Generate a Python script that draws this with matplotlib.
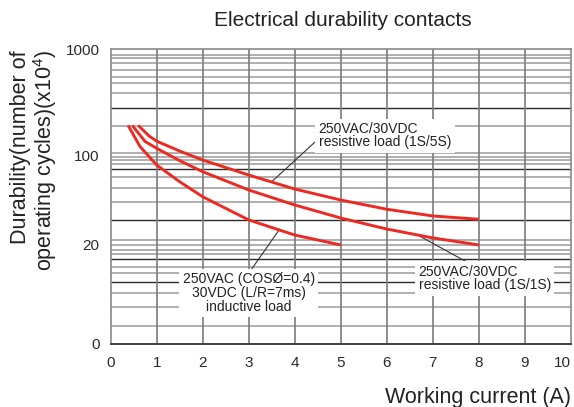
import numpy as np
import matplotlib
matplotlib.use("Agg")
import matplotlib.pyplot as plt

plt.rcParams["font.family"] = ["Liberation Sans", "DejaVu Sans"]
plt.rcParams["mathtext.fontset"] = "custom"
plt.rcParams["mathtext.rm"] = "Liberation Sans"

# Durability (x10^4 cycles), per working current (A)
x_1s5s = [0.60, 0.83, 1.0, 1.5, 2.0, 3.0, 4.0, 5.0, 6.0, 7.0, 8.0]
y_1s5s = [190, 152, 135, 109, 91.4, 69.9, 54.4, 44.7, 37.9, 33.6, 31.7]

x_1s1s = [0.47, 0.75, 1.0, 1.5, 2.0, 3.0, 4.0, 5.0, 6.0, 7.0, 8.0]
y_1s1s = [190, 134, 115.7, 90.4, 74.2, 53.5, 40.9, 32.4, 26.6, 22.7, 20.0]

x_ind = [0.38, 0.64, 1.0, 1.5, 2.0, 3.0, 4.0, 5.0]
y_ind = [190, 120, 83.6, 62.0, 47.4, 31.3, 23.9, 20.0]

x_ticks = list(range(0, 11))
y_ticks = [0, 20, 100, 1000]
y_ticklabels = ["0", "20", "100", "1000"]

RED = "#ec2a22"

# the printed chart's odd y axis: linear 0-20, then two log pieces
_LOG_ANCH = [np.log10(20), 2.0, 3.0]
_POS_ANCH = [99.0, 189.0, 295.0]


def fwd(v):
    v = np.asarray(v, dtype=float)
    hi = np.interp(np.log10(np.clip(v, 20, None)), _LOG_ANCH, _POS_ANCH)
    lo = v / 20.0 * 99.0
    return np.where(v < 20, lo, hi)


def inv(p):
    p = np.asarray(p, dtype=float)
    hi = 10 ** np.interp(p, _POS_ANCH, _LOG_ANCH)
    lo = p / 99.0 * 20.0
    return np.where(p < 99, lo, hi)


# horizontal rulings of the printed grid (axes fraction, dark?)
grid_rows = [
    (0.980, False), (0.969, False), (0.953, False), (0.929, False),
    (0.905, False), (0.885, False), (0.851, False), (0.800, True),
    (0.739, False), (0.647, False), (0.634, False), (0.624, False),
    (0.610, False), (0.593, True), (0.566, False), (0.529, False),
    (0.481, False), (0.420, True), (0.353, False), (0.336, False),
    (0.319, False), (0.305, False), (0.288, True), (0.261, False),
    (0.241, False), (0.210, True), (0.173, False), (0.125, False),
    (0.061, False),
]

fig = plt.figure(figsize=(5.74, 4.07), dpi=100)
ax = fig.add_axes([0.1927, 0.1548, 0.8021, 0.7248])
ax.set_yscale("function", functions=(fwd, inv))
ax.set_xlim(0, 10)
ax.set_ylim(0, 1000)

for f, dark in grid_rows:
    ax.plot([0, 1], [f, f], transform=ax.transAxes,
            color="#2a2a2a" if dark else "#9a9a9a",
            lw=1.0 if dark else 1.1, zorder=1)
for xv in x_ticks[1:-1]:
    ax.axvline(xv, color="#7a7a7a", lw=1.2, zorder=1)

for sp in ["left", "top", "right"]:
    ax.spines[sp].set_color("#8a8a8a")
    ax.spines[sp].set_linewidth(1.2)
ax.spines["bottom"].set_color("#333333")
ax.spines["bottom"].set_linewidth(1.3)

for xs, ys in [(x_1s5s, y_1s5s), (x_1s1s, y_1s1s), (x_ind, y_ind)]:
    ax.plot(xs, ys, color=RED, lw=2.1, zorder=3,
            solid_joinstyle="round", solid_capstyle="butt")

# leader lines
ax.plot([4.53, 3.5], [144, 62], color="#333333", lw=0.8, zorder=2)
ax.plot([6.67, 7.73], [23.9, 16.6], color="#333333", lw=0.8, zorder=2)
ax.plot([3.0, 3.67], [14.3, 26.5], color="#333333", lw=0.8, zorder=2)

box = dict(facecolor="white", edgecolor="none", pad=2.5)
ax.text(4.52, 152, "250VAC/30VDC\nresistive load (1S/5S)", ha="left",
        va="center", fontsize=10, color="#222222", linespacing=0.95,
        bbox=box, zorder=4)
ax.text(6.69, 13.2, "250VAC/30VDC\nresistive load (1S/1S)", ha="left",
        va="center", fontsize=10, color="#222222", linespacing=0.95,
        bbox=box, zorder=4)
ax.text(3.0, 10.3, "250VAC (COSØ=0.4)\n30VDC (L/R=7ms)\ninductive load",
        ha="center", va="center", multialignment="center", fontsize=10,
        color="#222222", linespacing=1.0, bbox=box, zorder=4)

ax.set_xticks(x_ticks)
ax.set_xticklabels([str(t) for t in x_ticks])
ax.get_xticklabels()[-1].set_horizontalalignment("right")
ax.set_yticks(y_ticks)
ax.set_yticklabels(y_ticklabels)
ax.yaxis.set_minor_locator(matplotlib.ticker.NullLocator())
ax.tick_params(axis="both", length=0, labelsize=11, colors="#2a2a2a")
ax.tick_params(axis="x", pad=9)
ax.tick_params(axis="y", pad=8)

fig.text(343 / 574, 1 - 20 / 407, "Electrical durability contacts",
         ha="center", va="center", fontsize=15, color="#222222")
fig.text(571 / 574, 1 - 397 / 407, "Working current (A)", ha="right",
         va="center", fontsize=15.5, color="#222222")
fig.text(34.5 / 574, 1 - 50 / 407,
         "Durability(number of\noperating cycles)(x10$^{4}$)",
         rotation=90, ha="center", va="top", multialignment="right",
         fontsize=15.5, color="#222222", linespacing=1.05)

fig.savefig("out.png", dpi=100)
